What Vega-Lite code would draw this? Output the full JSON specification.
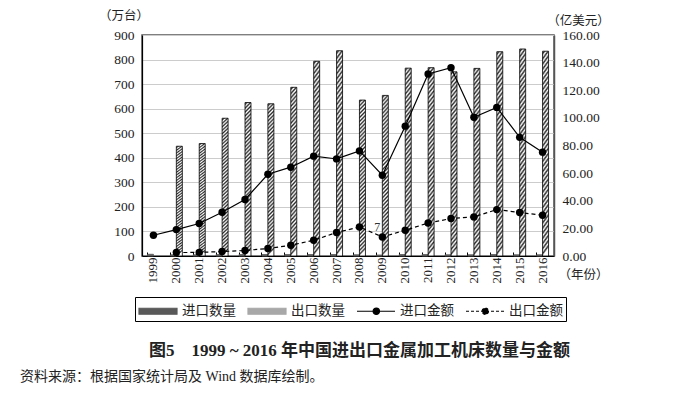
{
  "$schema": "https://vega.github.io/schema/vega-lite/v6.json",
  "background": "white",
  "autosize": {"type": "none"},
  "padding": {"left": 142, "top": 35, "right": 122, "bottom": 143},
  "width": 412,
  "height": 221,
  "title": {
    "text": "资料来源：根据国家统计局及 Wind 数据库绘制。",
    "orient": "bottom", "anchor": "start", "frame": "group",
    "dx": -122, "offset": 12,
    "font": "Liberation Serif, Noto Sans CJK SC", "fontSize": 14, "fontWeight": "normal", "color": "#222"
  },
  "data": {"values": [
    {"year": 1999, "进口数量": 7, "出口数量": null, "进口金额": 15.0, "出口金额": null},
    {"year": 2000, "进口数量": 5, "出口数量": 447, "进口金额": 19.1, "出口金额": 2.5},
    {"year": 2001, "进口数量": 5, "出口数量": 458, "进口金额": 23.5, "出口金额": 2.6},
    {"year": 2002, "进口数量": 6, "出口数量": 561, "进口金额": 31.7, "出口金额": 3.2},
    {"year": 2003, "进口数量": 6, "出口数量": 625, "进口金额": 40.9, "出口金额": 4.0},
    {"year": 2004, "进口数量": 6, "出口数量": 620, "进口金额": 59.2, "出口金额": 5.4},
    {"year": 2005, "进口数量": 6, "出口数量": 687, "进口金额": 64.3, "出口金额": 7.8},
    {"year": 2006, "进口数量": 6, "出口数量": 793, "进口金额": 72.3, "出口金额": 11.4},
    {"year": 2007, "进口数量": 6, "出口数量": 836, "进口金额": 70.3, "出口金额": 17.0},
    {"year": 2008, "进口数量": 5, "出口数量": 635, "进口金额": 76.1, "出口金额": 21.0},
    {"year": 2009, "进口数量": 4, "出口数量": 654, "进口金额": 58.5, "出口金额": 13.8},
    {"year": 2010, "进口数量": 6, "出口数量": 765, "进口金额": 94.0, "出口金额": 18.6},
    {"year": 2011, "进口数量": 6, "出口数量": 767, "进口金额": 131.8, "出口金额": 23.9},
    {"year": 2012, "进口数量": 5, "出口数量": 750, "进口金额": 136.3, "出口金额": 27.1},
    {"year": 2013, "进口数量": 5, "出口数量": 764, "进口金额": 100.4, "出口金额": 28.3},
    {"year": 2014, "进口数量": 6, "出口数量": 832, "进口金额": 107.6, "出口金额": 33.6},
    {"year": 2015, "进口数量": 5, "出口数量": 843, "进口金额": 85.9, "出口金额": 31.5},
    {"year": 2016, "进口数量": 5, "出口数量": 834, "进口金额": 75.2, "出口金额": 29.5}
  ]},
  "layer": [
    {
      "transform": [{"fold": ["进口数量", "出口数量"], "as": ["series", "value"]}],
      "mark": {"type": "bar", "strokeWidth": 0.8},
      "encoding": {
        "x": {
          "field": "year", "type": "ordinal",
          "scale": {"paddingInner": 0.476, "paddingOuter": 0.238},
          "axis": {
            "labelAngle": -90, "labelPadding": 5, "labelFontSize": 13,
            "ticks": true, "tickSize": -4, "tickColor": "#000", "bandPosition": 0,
            "grid": false, "domainColor": "#000", "domainWidth": 1.2,
            "title": "（年份）", "titleAngle": 0, "titleX": 441, "titleY": 18,
            "titleAlign": "center", "titleBaseline": "middle", "titleFontSize": 12.5
          }
        },
        "xOffset": {"field": "series", "type": "nominal", "sort": ["进口数量", "出口数量"]},
        "y": {
          "field": "value", "type": "quantitative",
          "scale": {"domain": [0, 900], "nice": false},
          "axis": {
            "values": [0, 100, 200, 300, 400, 500, 600, 700, 800, 900],
            "grid": true, "gridColor": "#cccccc", "ticks": false,
            "labelPadding": 8, "domainColor": "#000", "domainWidth": 1.2,
            "title": "（万台）", "titleAngle": 0, "titleX": -18.5, "titleY": -20,
            "titleAlign": "center", "titleBaseline": "middle", "titleFontSize": 12.5
          }
        },
        "fill": {
          "condition": {
            "test": "datum.series === '出口数量'",
            "value": {
              "gradient": "linear", "x1": 0, "y1": 0, "x2": 0.04, "y2": 1,
              "stops": [
                {"offset": 0, "color": "#ffffff"}, {"offset": 0.0125, "color": "#2a2a2a"},
                {"offset": 0.025, "color": "#ffffff"}, {"offset": 0.0375, "color": "#2a2a2a"},
                {"offset": 0.05, "color": "#ffffff"}, {"offset": 0.0625, "color": "#2a2a2a"},
                {"offset": 0.075, "color": "#ffffff"}, {"offset": 0.0875, "color": "#2a2a2a"},
                {"offset": 0.1, "color": "#ffffff"}, {"offset": 0.1125, "color": "#2a2a2a"},
                {"offset": 0.125, "color": "#ffffff"}, {"offset": 0.1375, "color": "#2a2a2a"},
                {"offset": 0.15, "color": "#ffffff"}, {"offset": 0.1625, "color": "#2a2a2a"},
                {"offset": 0.175, "color": "#ffffff"}, {"offset": 0.1875, "color": "#2a2a2a"},
                {"offset": 0.2, "color": "#ffffff"}, {"offset": 0.2125, "color": "#2a2a2a"},
                {"offset": 0.225, "color": "#ffffff"}, {"offset": 0.2375, "color": "#2a2a2a"},
                {"offset": 0.25, "color": "#ffffff"}, {"offset": 0.2625, "color": "#2a2a2a"},
                {"offset": 0.275, "color": "#ffffff"}, {"offset": 0.2875, "color": "#2a2a2a"},
                {"offset": 0.3, "color": "#ffffff"}, {"offset": 0.3125, "color": "#2a2a2a"},
                {"offset": 0.325, "color": "#ffffff"}, {"offset": 0.3375, "color": "#2a2a2a"},
                {"offset": 0.35, "color": "#ffffff"}, {"offset": 0.3625, "color": "#2a2a2a"},
                {"offset": 0.375, "color": "#ffffff"}, {"offset": 0.3875, "color": "#2a2a2a"},
                {"offset": 0.4, "color": "#ffffff"}, {"offset": 0.4125, "color": "#2a2a2a"},
                {"offset": 0.425, "color": "#ffffff"}, {"offset": 0.4375, "color": "#2a2a2a"},
                {"offset": 0.45, "color": "#ffffff"}, {"offset": 0.4625, "color": "#2a2a2a"},
                {"offset": 0.475, "color": "#ffffff"}, {"offset": 0.4875, "color": "#2a2a2a"},
                {"offset": 0.5, "color": "#ffffff"}, {"offset": 0.5125, "color": "#2a2a2a"},
                {"offset": 0.525, "color": "#ffffff"}, {"offset": 0.5375, "color": "#2a2a2a"},
                {"offset": 0.55, "color": "#ffffff"}, {"offset": 0.5625, "color": "#2a2a2a"},
                {"offset": 0.575, "color": "#ffffff"}, {"offset": 0.5875, "color": "#2a2a2a"},
                {"offset": 0.6, "color": "#ffffff"}, {"offset": 0.6125, "color": "#2a2a2a"},
                {"offset": 0.625, "color": "#ffffff"}, {"offset": 0.6375, "color": "#2a2a2a"},
                {"offset": 0.65, "color": "#ffffff"}, {"offset": 0.6625, "color": "#2a2a2a"},
                {"offset": 0.675, "color": "#ffffff"}, {"offset": 0.6875, "color": "#2a2a2a"},
                {"offset": 0.7, "color": "#ffffff"}, {"offset": 0.7125, "color": "#2a2a2a"},
                {"offset": 0.725, "color": "#ffffff"}, {"offset": 0.7375, "color": "#2a2a2a"},
                {"offset": 0.75, "color": "#ffffff"}, {"offset": 0.7625, "color": "#2a2a2a"},
                {"offset": 0.775, "color": "#ffffff"}, {"offset": 0.7875, "color": "#2a2a2a"},
                {"offset": 0.8, "color": "#ffffff"}, {"offset": 0.8125, "color": "#2a2a2a"},
                {"offset": 0.825, "color": "#ffffff"}, {"offset": 0.8375, "color": "#2a2a2a"},
                {"offset": 0.85, "color": "#ffffff"}, {"offset": 0.8625, "color": "#2a2a2a"},
                {"offset": 0.875, "color": "#ffffff"}, {"offset": 0.8875, "color": "#2a2a2a"},
                {"offset": 0.9, "color": "#ffffff"}, {"offset": 0.9125, "color": "#2a2a2a"},
                {"offset": 0.925, "color": "#ffffff"}, {"offset": 0.9375, "color": "#2a2a2a"},
                {"offset": 0.95, "color": "#ffffff"}, {"offset": 0.9625, "color": "#2a2a2a"},
                {"offset": 0.975, "color": "#ffffff"}, {"offset": 0.9875, "color": "#2a2a2a"},
                {"offset": 1, "color": "#ffffff"}
              ]
            }
          },
          "value": "#595959"
        },
        "stroke": {
          "condition": {"test": "datum.series === '出口数量'", "value": "#000000"},
          "value": "#595959"
        }
      }
    },
    {
      "transform": [{"fold": ["进口金额", "出口金额"], "as": ["series", "value"]}],
      "encoding": {
        "x": {
          "field": "year", "type": "ordinal",
          "axis": {
            "orient": "bottom", "labels": false, "ticks": false, "domain": false, "grid": false,
            "title": "图5　1999 ~ 2016 年中国进出口金属加工机床数量与金额",
            "titleAngle": 0, "titleX": 217, "titleY": 94,
            "titleAlign": "center", "titleBaseline": "middle",
            "titleFont": "Liberation Serif, Noto Sans CJK SC", "titleFontSize": 17, "titleFontWeight": "bold", "titleColor": "#222"
          }
        },
        "y": {
          "field": "value", "type": "quantitative",
          "scale": {"domain": [0, 160], "nice": false},
          "axis": {
            "orient": "right",
            "values": [0, 20, 40, 60, 80, 100, 120, 140, 160], "format": ".2f",
            "grid": false, "ticks": false, "labelPadding": 8,
            "domainColor": "#555", "domainWidth": 1.5,
            "title": "（亿美元）", "titleAngle": 0, "titleX": 24, "titleY": -15,
            "titleAlign": "center", "titleBaseline": "middle", "titleFontSize": 12.5
          }
        },
        "color": {
          "field": "series", "type": "nominal",
          "scale": {
            "domain": ["进口数量", "出口数量", "进口金额", "出口金额"],
            "range": ["#595959", "#a8a8a8", "#000000", "#000000"]
          },
          "legend": {
            "orient": "none", "legendX": -7, "legendY": 262,
            "direction": "horizontal", "title": null,
            "strokeColor": "#000", "fillColor": "white", "padding": 3, "cornerRadius": 0,
            "labelFont": "Noto Sans CJK SC", "labelFontSize": 13.5, "labelColor": "#222",
            "labelOffset": 22, "columnPadding": 9, "labelLimit": 200,
            "symbolSize": 400, "symbolStrokeWidth": 1.2, "symbolOpacity": 1,
            "symbolType": {"expr": "(datum.value === '进口数量' || datum.value === '出口数量') ? 'M-1,-0.3H2.8V0.3H-1Z' : 'M-1,0H2.8M1.25,0A0.32,0.32,0,1,1,0.61,0A0.32,0.32,0,1,1,1.25,0Z'"},
            "symbolDash": {"expr": "datum.value === '出口金额' ? [3, 2] : [100, 0]"}
          }
        },
        "strokeDash": {
          "field": "series", "type": "nominal",
          "scale": {"domain": ["进口金额", "出口金额"], "range": [[100, 0], [4, 3]]},
          "legend": null
        }
      },
      "layer": [
        {"mark": {"type": "line", "strokeWidth": 1.2}},
        {"mark": {"type": "point", "filled": true, "size": 55, "opacity": 1}},
        {
          "data": {"values": [{"year": 2009, "value": 21, "label": "7"}]},
          "mark": {"type": "text", "dx": -5, "fontSize": 12, "font": "Liberation Serif", "baseline": "middle"},
          "encoding": {
            "text": {"field": "label"},
            "color": {"value": "#333"},
            "strokeDash": null
          }
        }
      ]
    }
  ],
  "resolve": {"scale": {"y": "independent"}, "axis": {"x": "independent"}},
  "config": {
    "view": {"stroke": "#555", "strokeWidth": 1.5},
    "axis": {
      "labelFont": "Liberation Serif", "labelFontSize": 13.5, "labelColor": "#222",
      "titleFont": "Noto Sans CJK SC", "titleFontWeight": "normal", "titleColor": "#222"
    }
  }
}
